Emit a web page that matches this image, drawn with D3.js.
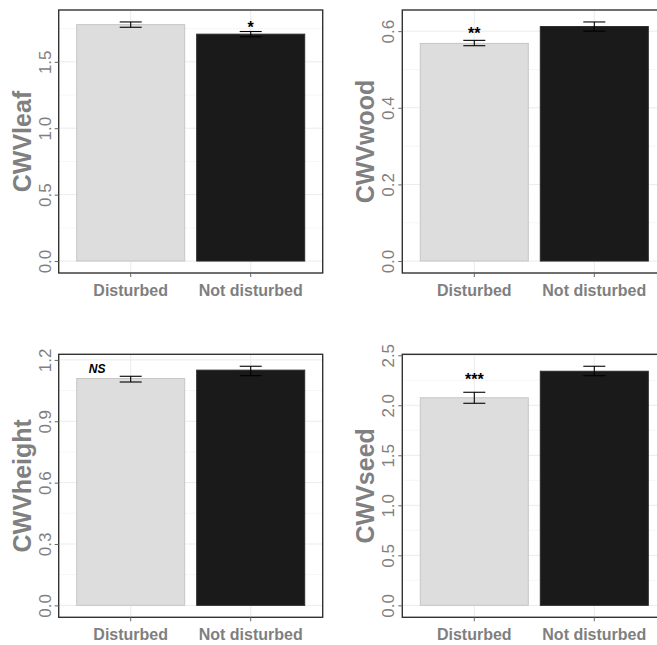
<!DOCTYPE html>
<html>
<head>
<meta charset="utf-8">
<script src="https://cdn.jsdelivr.net/npm/d3@7"></script>
<style>
  html, body { margin: 0; padding: 0; background: #fff; }
  svg { display: block; }
</style>
</head>
<body>
<svg id="chart" width="657" height="645"></svg>
<script>
// Treatment groups shared by every panel
const groups = ["Disturbed", "Not disturbed"];

// Community-weighted values: mean with lower / upper error bounds
const leafMean = [1.78, 1.708];
const leafLow = [1.76, 1.688];
const leafHigh = [1.80, 1.728];
const leafTicks = [0.0, 0.5, 1.0, 1.5];

const woodMean = [0.568, 0.612];
const woodLow = [0.562, 0.600];
const woodHigh = [0.576, 0.624];
const woodTicks = [0.0, 0.2, 0.4, 0.6];

const heightMean = [1.109, 1.150];
const heightLow = [1.092, 1.123];
const heightHigh = [1.120, 1.169];
const heightTicks = [0.0, 0.3, 0.6, 0.9, 1.2];

const seedMean = [2.075, 2.34];
const seedLow = [2.02, 2.295];
const seedHigh = [2.13, 2.39];
const seedTicks = [0.0, 0.5, 1.0, 1.5, 2.0, 2.5];

// Significance labels: text, group position (1-based, continuous), y value
const leafSig = ["*", 2, 1.805];
const woodSig = ["**", 1, 0.612];
const heightSig = ["NS", 0.72, 1.158];
const seedSig = ["***", 1, 2.32];

const panels = [
  { title: "CWVleaf", mean: leafMean, low: leafLow, high: leafHigh, ticks: leafTicks, sig: leafSig, left: 58.7, top: 10 },
  { title: "CWVwood", mean: woodMean, low: woodLow, high: woodHigh, ticks: woodTicks, sig: woodSig, left: 402.3, top: 10 },
  { title: "CWVheight", mean: heightMean, low: heightLow, high: heightHigh, ticks: heightTicks, sig: heightSig, left: 58.7, top: 354.3 },
  { title: "CWVseed", mean: seedMean, low: seedLow, high: seedHigh, ticks: seedTicks, sig: seedSig, left: 402.3, top: 354.3 }
];

const fills = ["#dddddd", "#1a1a1a"];
const strokes = ["#c6c6c6", "#2a2a2a"];
const panelW = 264, panelH = 263;
const font = "'Liberation Sans', Arial, sans-serif";
const svg = d3.select("#chart");

panels.forEach(p => {
  const g = svg.append("g").attr("transform", `translate(${p.left},${p.top})`);

  // y domain: zero-based with 5% expansion on both ends
  const ymax = d3.max(p.high);
  const y = d3.scaleLinear()
    .domain([-0.05 * ymax, ymax * 1.05])
    .range([panelH, 0]);

  const x = d3.scaleBand()
    .domain(groups)
    .range([0, panelW])
    .paddingInner(0.1)
    .paddingOuter(0.15);

  // continuous x for annotation placement (group 1 -> first band center)
  const xc = d3.scaleLinear()
    .domain([1, 2])
    .range([x(groups[0]) + x.bandwidth() / 2, x(groups[1]) + x.bandwidth() / 2]);

  // Minor grid lines halfway between major ticks
  const step = p.ticks[1] - p.ticks[0];
  const minor = p.ticks.map(t => t + step / 2).filter(t => y(t) > 0);
  g.selectAll(".minor").data(minor).enter().append("line")
    .attr("x1", 0).attr("x2", panelW)
    .attr("y1", d => y(d)).attr("y2", d => y(d))
    .attr("stroke", "#f4f4f4").attr("stroke-width", 0.8);

  g.selectAll(".major").data(p.ticks).enter().append("line")
    .attr("x1", 0).attr("x2", panelW)
    .attr("y1", d => y(d)).attr("y2", d => y(d))
    .attr("stroke", "#ebebeb").attr("stroke-width", 1);

  g.selectAll(".vgrid").data(groups).enter().append("line")
    .attr("x1", d => x(d) + x.bandwidth() / 2).attr("x2", d => x(d) + x.bandwidth() / 2)
    .attr("y1", 0).attr("y2", panelH)
    .attr("stroke", "#ebebeb").attr("stroke-width", 1);

  // Bars
  g.selectAll(".bar").data(groups).enter().append("rect")
    .attr("x", d => x(d))
    .attr("width", x.bandwidth())
    .attr("y", (d, i) => y(p.mean[i]))
    .attr("height", (d, i) => y(0) - y(p.mean[i]))
    .attr("fill", (d, i) => fills[i])
    .attr("stroke", (d, i) => strokes[i])
    .attr("stroke-width", 1);

  // Error bars
  const whisk = 11;
  groups.forEach((d, i) => {
    const cx = x(d) + x.bandwidth() / 2;
    const eb = g.append("g").attr("stroke", "#000").attr("stroke-width", 1.1);
    eb.append("line").attr("x1", cx).attr("x2", cx).attr("y1", y(p.low[i])).attr("y2", y(p.high[i]));
    eb.append("line").attr("x1", cx - whisk).attr("x2", cx + whisk).attr("y1", y(p.low[i])).attr("y2", y(p.low[i]));
    eb.append("line").attr("x1", cx - whisk).attr("x2", cx + whisk).attr("y1", y(p.high[i])).attr("y2", y(p.high[i]));
  });

  // Panel border
  g.append("rect")
    .attr("x", 0).attr("y", 0).attr("width", panelW).attr("height", panelH)
    .attr("fill", "none").attr("stroke", "#333").attr("stroke-width", 1.4);

  // Y axis
  const yAxis = g.append("g")
    .call(d3.axisLeft(y).tickValues(p.ticks).tickFormat(d3.format(".1f")).tickSize(4).tickPadding(3));
  yAxis.select(".domain").remove();
  yAxis.selectAll(".tick line").attr("stroke", "#666");
  yAxis.selectAll(".tick text")
    .attr("transform", "rotate(-90)")
    .attr("x", 0).attr("y", -14).attr("dy", "0.36em")
    .attr("text-anchor", "middle")
    .attr("fill", "#7f7f7f")
    .style("font-family", font).style("font-size", "17px");

  // X axis
  const xAxis = g.append("g").attr("transform", `translate(0,${panelH})`)
    .call(d3.axisBottom(x).tickSize(4).tickPadding(4));
  xAxis.select(".domain").remove();
  xAxis.selectAll(".tick line").attr("stroke", "#666");
  xAxis.selectAll(".tick text")
    .attr("fill", "#7f7f7f")
    .attr("dy", "0.95em")
    .style("font-family", font).style("font-size", "16px").style("font-weight", "bold");

  // Y title
  g.append("text")
    .attr("transform", `translate(-28,${panelH / 2}) rotate(-90)`)
    .attr("text-anchor", "middle")
    .attr("fill", "#808080")
    .style("font-family", font).style("font-size", "25px").style("font-weight", "bold")
    .text(p.title);

  // Significance label
  const [txt, gx, gy] = p.sig;
  const isNS = txt === "NS";
  g.append("text")
    .attr("x", xc(gx)).attr("y", y(gy))
    .attr("dy", isNS ? "0.35em" : "0.75em")
    .attr("text-anchor", "middle")
    .attr("fill", "#000")
    .style("font-family", font)
    .style("font-size", isNS ? "12px" : "16px")
    .style("font-weight", "bold")
    .style("font-style", isNS ? "italic" : "normal")
    .text(txt);
});
</script>
</body>
</html>
